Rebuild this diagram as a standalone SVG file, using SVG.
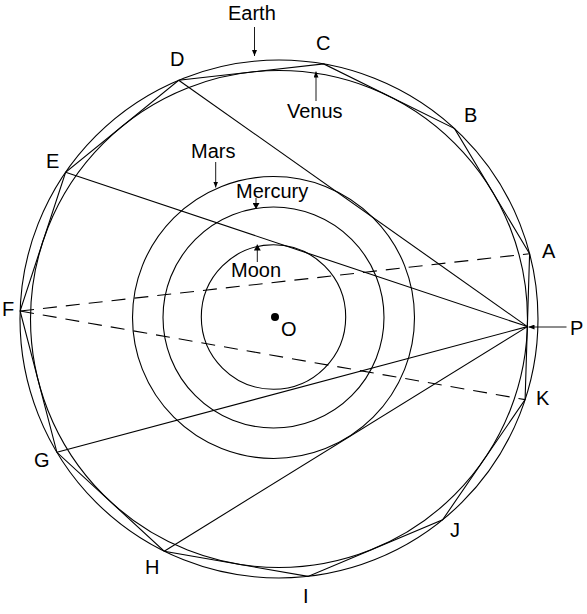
<svg xmlns="http://www.w3.org/2000/svg" width="587" height="614" viewBox="0 0 587 614">
<style>
  .ln { fill: none; stroke: #000; stroke-width: 1.1; }
  .dash { fill: none; stroke: #000; stroke-width: 1.1; stroke-dasharray: 14 9; }
  .ptr { fill: none; stroke: #000; stroke-width: 0.9; }
  text { font-family: "Liberation Sans", Arial, sans-serif; font-size: 20px; fill: #000; }
</style>
<defs>
  <marker id="ah" markerWidth="6" markerHeight="5" refX="6" refY="2.5" orient="auto" markerUnits="userSpaceOnUse">
    <path d="M0,0 L6,2.5 L0,5 z" fill="#000"/>
  </marker>
  <marker id="ahb" markerWidth="6" markerHeight="7" refX="6" refY="3.5" orient="auto" markerUnits="userSpaceOnUse">
    <path d="M0,0 L6,3.5 L0,7 z" fill="#000"/>
  </marker>
</defs>
<rect width="587" height="614" fill="#fff"/>

<g id="earth"><circle class="ln" cx="279" cy="319" r="259"/></g>
<g id="venus"><circle class="ln" cx="279" cy="319" r="248.5"/></g>
<g id="mars"><circle class="ln" cx="273.5" cy="317.5" r="141"/></g>
<g id="mercury"><circle class="ln" cx="273.5" cy="317.5" r="110.5"/></g>
<g id="moon"><circle class="ln" cx="273.5" cy="317" r="72.2"/></g>
<g id="polygon">
  <polygon class="ln" points="529.6,253.7 454.6,128.6 323.7,63.9 178.7,80.2 65.6,172.3 20.1,311.0 56.9,452.3 164.2,551.2 308.0,576.4 442.6,519.8 525.1,399.6"/>
</g>
<g id="center-O">
  <circle cx="275" cy="317" r="4" fill="#000"/>
  <text x="281" y="336">O</text>
</g>

<g id="connectors">
  <line class="ln" x1="527.4" y1="326.6" x2="178.7" y2="80.2"/>
  <line class="ln" x1="527.4" y1="326.6" x2="65.6" y2="172.3"/>
  <line class="ln" x1="527.4" y1="326.6" x2="56.9" y2="452.3"/>
  <line class="ln" x1="527.4" y1="326.6" x2="164.2" y2="551.2"/>
  <line class="dash" x1="20.1" y1="311.0" x2="529.6" y2="253.7"/>
  <line class="dash" x1="20.1" y1="311.0" x2="525.1" y2="399.6"/>
  <line class="ptr" x1="254.5" y1="27" x2="254.5" y2="56" marker-end="url(#ah)"/>
  <line class="ptr" x1="316" y1="101" x2="316" y2="71.5" marker-end="url(#ah)"/>
  <line class="ptr" x1="215.7" y1="162" x2="215.7" y2="187.5" marker-end="url(#ah)"/>
  <line class="ptr" x1="256" y1="198" x2="256" y2="209" marker-end="url(#ahb)"/>
  <line class="ptr" x1="257.3" y1="262" x2="257.3" y2="244.5" marker-end="url(#ahb)"/>
  <line class="ptr" x1="566.5" y1="327" x2="528.5" y2="327" marker-end="url(#ah)"/>
</g>

<g id="labels">
  <text x="228" y="20">Earth</text>
  <text x="287" y="118">Venus</text>
  <text x="191" y="158">Mars</text>
  <text x="236" y="198">Mercury</text>
  <text x="231" y="277">Moon</text>
  <text x="542" y="258">A</text>
  <text x="464" y="122">B</text>
  <text x="316" y="50">C</text>
  <text x="170" y="66">D</text>
  <text x="46" y="168">E</text>
  <text x="2" y="316">F</text>
  <text x="34" y="467">G</text>
  <text x="145" y="574">H</text>
  <text x="303" y="603">I</text>
  <text x="450" y="537">J</text>
  <text x="536" y="405">K</text>
  <text x="570" y="335">P</text>
</g>
</svg>
